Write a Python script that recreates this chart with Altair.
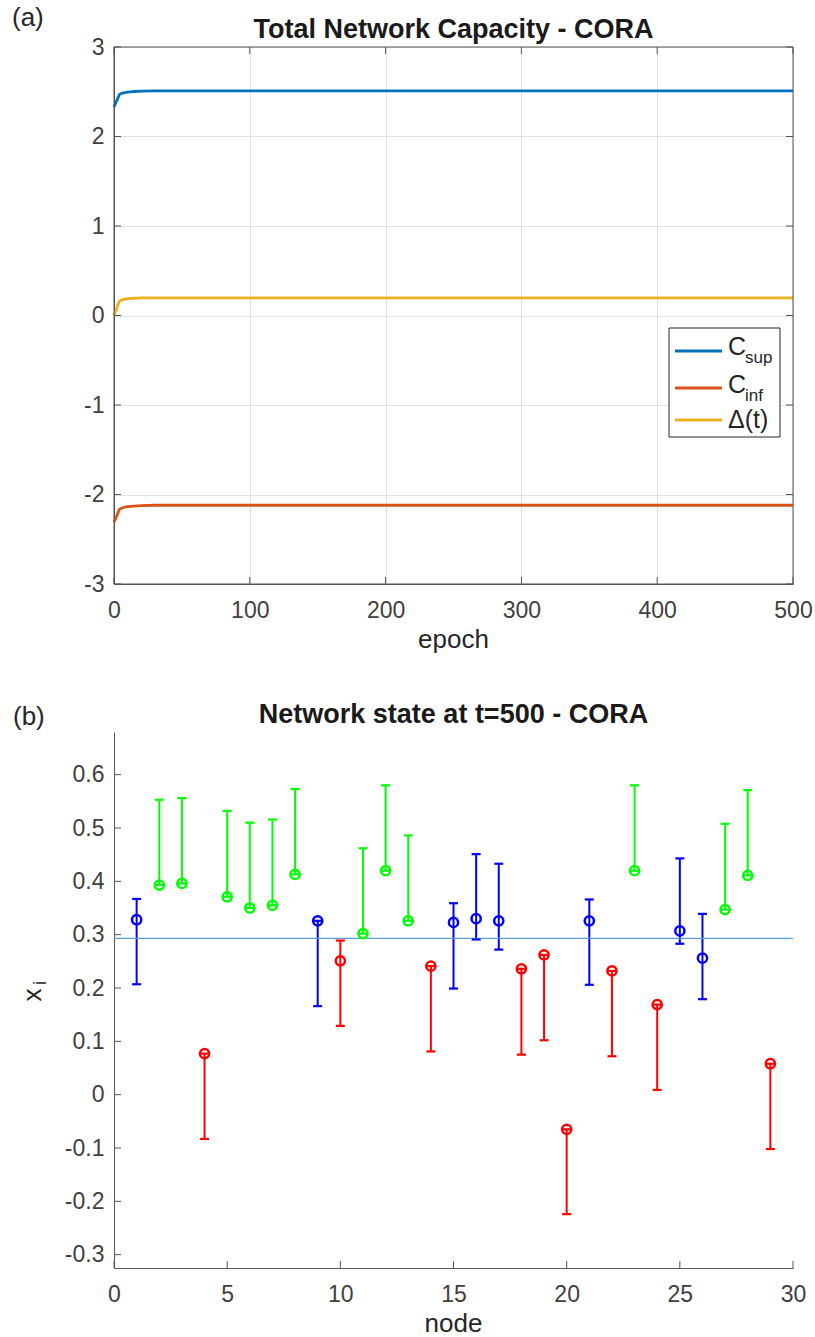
import altair as alt
import pandas as pd

FONT = "Liberation Sans"
INK = "#262626"
AXC = "#555555"

# ---------------- Panel (a): Total Network Capacity ----------------
epochs = [0, 2, 4, 6, 8, 10, 15, 20, 30, 50, 100, 200, 300, 400, 500]
c_sup = [2.33, 2.40, 2.47, 2.485, 2.49, 2.497, 2.503, 2.507, 2.51, 2.51, 2.51, 2.51, 2.51, 2.51, 2.51]
c_inf = [-2.31, -2.24, -2.165, -2.15, -2.14, -2.135, -2.13, -2.125, -2.12, -2.12, -2.12, -2.12, -2.12, -2.12, -2.12]
delta = [0.0, 0.08, 0.16, 0.175, 0.183, 0.188, 0.193, 0.196, 0.198, 0.198, 0.198, 0.198, 0.198, 0.198, 0.198]
series_names = ["C_sup", "C_inf", "Δ(t)"]
series_colors = ["#0072BD", "#D95319", "#EDB120"]
legend_main = ["C", "C", "Δ(t)"]
legend_sub = ["sup", "inf", ""]
a_xticks = [0, 100, 200, 300, 400, 500]
a_yticks = [-3, -2, -1, 0, 1, 2, 3]
title_a = "Total Network Capacity - CORA"
label_a = "(a)"
xlabel_a = "epoch"

# ---------------- Panel (b): Network state ----------------
nodes = list(range(1, 30))
xi = [0.328, 0.393, 0.396, 0.077, 0.371, 0.350, 0.355, 0.413, 0.326, 0.251,
      0.302, 0.420, 0.326, 0.241, 0.323, 0.330, 0.326, 0.236, 0.262, -0.065,
      0.326, 0.232, 0.420, 0.169, 0.307, 0.256, 0.347, 0.411, 0.058]
lo = [0.207, 0.393, 0.396, -0.083, 0.371, 0.350, 0.355, 0.413, 0.166, 0.129,
      0.302, 0.420, 0.326, 0.081, 0.199, 0.291, 0.272, 0.075, 0.102, -0.224,
      0.206, 0.072, 0.420, 0.009, 0.283, 0.179, 0.347, 0.411, -0.102]
hi = [0.367, 0.553, 0.556, 0.077, 0.532, 0.510, 0.516, 0.573, 0.326, 0.289,
      0.462, 0.580, 0.486, 0.241, 0.359, 0.451, 0.433, 0.236, 0.262, -0.065,
      0.366, 0.232, 0.580, 0.169, 0.443, 0.339, 0.508, 0.571, 0.058]
cls = ["b", "g", "g", "r", "g", "g", "g", "g", "b", "r",
       "g", "g", "g", "r", "b", "b", "b", "r", "r", "r",
       "b", "r", "g", "r", "b", "b", "g", "g", "r"]
cls_colors = {"b": "#0000FF", "g": "#00FF00", "r": "#FF0000"}
mean_line = [0.293]
b_xticks = [0, 5, 10, 15, 20, 25, 30]
b_yticks = [-0.3, -0.2, -0.1, 0.0, 0.1, 0.2, 0.3, 0.4, 0.5, 0.6]
title_b = "Network state at t=500 - CORA"
label_b = "(b)"
xlabel_b = "node"
ylabel_b = ["x", "i"]

W, H1, H2 = 679, 537, 536
PAD_L, PAD_T, PAD_R, PAD_B = 114, 47, 22, 69
LABEL_EXPR = "replace(format(datum.value, '.1~f'), '\u2212', '-')"
NOVIEW = alt.ViewBackground(stroke="transparent", strokeWidth=0)


def txt(s, x, y, size, weight="normal", align="left", angle=0, baseline="alphabetic", color=INK):
    return alt.Chart(pd.DataFrame({"t": [s]})).mark_text(
        align=align, baseline=baseline, font=FONT, fontSize=size,
        fontWeight=weight, angle=angle, color=color
    ).encode(text="t:N", x=alt.value(x), y=alt.value(y))


def spacer(x1, x2, y1, y2):
    return alt.Chart(pd.DataFrame({"k": [0]})).mark_rect(fillOpacity=0, strokeOpacity=0).encode(
        x=alt.value(x1), x2=alt.value(x2), y=alt.value(y1), y2=alt.value(y2))


def xaxis(vals, grid):
    return alt.Axis(values=vals, grid=grid, gridColor="#e2e2e2", gridWidth=1,
                    domainColor=AXC, domainWidth=1, ticks=False, tickSize=0,
                    labelFont=FONT, labelFontSize=23, labelColor="#404040",
                    labelPadding=33, labelBaseline="alphabetic", labelFlush=False,
                    labelOverlap=False, labelExpr=LABEL_EXPR, title=None)


def yaxis(vals, grid):
    return alt.Axis(values=vals, grid=grid, gridColor="#e2e2e2", gridWidth=1,
                    domainColor=AXC, domainWidth=1, ticks=False, tickSize=0,
                    labelFont=FONT, labelFontSize=23, labelColor="#404040",
                    labelPadding=10, labelFlush=False, labelOverlap=False,
                    labelExpr=LABEL_EXPR, title=None)


# ---- build panel (a)
rows = []
for name, vals in zip(series_names, [c_sup, c_inf, delta]):
    for e, v in zip(epochs, vals):
        rows.append({"epoch": e, "value": v, "series": name})
df_a = pd.DataFrame(rows)

xs_a = alt.Scale(domain=[0, 500], nice=False)
ys_a = alt.Scale(domain=[-3, 3], nice=False)

lines = alt.Chart(df_a).mark_line(strokeWidth=2.8).encode(
    x=alt.X("epoch:Q", scale=xs_a, axis=xaxis(a_xticks, True)),
    y=alt.Y("value:Q", scale=ys_a, axis=yaxis(a_yticks, True)),
    color=alt.Color("series:N", scale=alt.Scale(domain=series_names, range=series_colors), legend=None),
    order=alt.Order("epoch:Q"),
)

frame_a = alt.Chart(pd.DataFrame({"k": [0]})).mark_rect(fillOpacity=0, stroke=AXC, strokeWidth=1).encode(
    x=alt.value(0), x2=alt.value(W), y=alt.value(0), y2=alt.value(H1))

df_axt = pd.DataFrame({"v": a_xticks})
df_ayt = pd.DataFrame({"v": a_yticks})
tk = dict(color=AXC, strokeWidth=1)
ticks_a = [
    alt.Chart(df_axt).mark_rule(**tk).encode(x=alt.X("v:Q", scale=xs_a), y=alt.value(H1), y2=alt.value(H1 - 7)),
    alt.Chart(df_axt).mark_rule(**tk).encode(x=alt.X("v:Q", scale=xs_a), y=alt.value(0), y2=alt.value(7)),
    alt.Chart(df_ayt).mark_rule(**tk).encode(y=alt.Y("v:Q", scale=ys_a), x=alt.value(0), x2=alt.value(7)),
    alt.Chart(df_ayt).mark_rule(**tk).encode(y=alt.Y("v:Q", scale=ys_a), x=alt.value(W - 7), x2=alt.value(W)),
]

legend_box = alt.Chart(pd.DataFrame({"k": [0]})).mark_rect(fill="white", stroke=INK, strokeWidth=1).encode(
    x=alt.value(555), x2=alt.value(666), y=alt.value(281), y2=alt.value(390))
leg_layers = [legend_box]
leg_y = [304, 341, 373]
main_base = [308, 346, 381]
sub_base = [316, 354]
for i, (col, m, s) in enumerate(zip(series_colors, legend_main, legend_sub)):
    leg_layers.append(
        alt.Chart(pd.DataFrame({"k": [i]})).mark_rule(color=col, strokeWidth=2.8).encode(
            x=alt.value(561), x2=alt.value(608), y=alt.value(leg_y[i])))
    leg_layers.append(txt(m, 614, main_base[i], 25))
    if s:
        leg_layers.append(txt(s, 631, sub_base[i], 17))

texts_a = [
    txt(title_a, W / 2, -9, 27, weight="bold", align="center", color="#1a1a1a"),
    txt(label_a, -102, -21, 26),
    txt(xlabel_a, W / 2, H1 + 64, 26, align="center"),
]

panel_a = alt.layer(spacer(-PAD_L, W + PAD_R, -PAD_T, 0), lines, frame_a, *ticks_a, *leg_layers,
                    *texts_a).properties(width=W, height=H1, view=NOVIEW)

# ---- build panel (b)
df_b = pd.DataFrame({"node": nodes, "xi": xi, "lo": lo, "hi": hi,
                     "col": [cls_colors[c] for c in cls]})
xs_b = alt.Scale(domain=[0, 30], nice=False)
ys_b = alt.Scale(domain=[-0.325, 0.68], nice=False)

base_b = alt.Chart(df_b)
bars = base_b.mark_rule(strokeWidth=2).encode(
    x=alt.X("node:Q", scale=xs_b, axis=xaxis(b_xticks, False)),
    y=alt.Y("lo:Q", scale=ys_b, axis=yaxis(b_yticks, False)),
    y2="hi:Q",
    color=alt.Color("col:N", scale=None),
)
cap_lo = base_b.mark_rule(strokeWidth=2.2, xOffset=-4.5, x2Offset=4.5).encode(
    x=alt.X("node:Q", scale=xs_b), x2="node:Q", y=alt.Y("lo:Q", scale=ys_b),
    color=alt.Color("col:N", scale=None))
cap_hi = base_b.mark_rule(strokeWidth=2.2, xOffset=-4.5, x2Offset=4.5).encode(
    x=alt.X("node:Q", scale=xs_b), x2="node:Q", y=alt.Y("hi:Q", scale=ys_b),
    color=alt.Color("col:N", scale=None))
pts = base_b.mark_point(shape="circle", filled=False, size=85, strokeWidth=2.5, opacity=1).encode(
    x=alt.X("node:Q", scale=xs_b), y=alt.Y("xi:Q", scale=ys_b),
    color=alt.Color("col:N", scale=None))
ref = alt.Chart(pd.DataFrame({"m": mean_line})).mark_rule(color="#5b9fd6", strokeWidth=1.3).encode(
    y=alt.Y("m:Q", scale=ys_b))

df_bxt = pd.DataFrame({"v": b_xticks})
df_byt = pd.DataFrame({"v": b_yticks})
ticks_b = [
    alt.Chart(df_bxt).mark_rule(**tk).encode(x=alt.X("v:Q", scale=xs_b), y=alt.value(H2), y2=alt.value(H2 - 7)),
    alt.Chart(df_byt).mark_rule(**tk).encode(y=alt.Y("v:Q", scale=ys_b), x=alt.value(0), x2=alt.value(7)),
]

texts_b = [
    txt(title_b, W / 2, -9, 27, weight="bold", align="center", color="#1a1a1a"),
    txt(label_b, -101, -7, 26),
    txt(xlabel_b, W / 2, H2 + 64, 26, align="center"),
    txt(ylabel_b[0], -73, 263, 26, align="center", angle=270),
    txt(ylabel_b[1], -68, 251, 18, align="center", angle=270),
]

panel_b = alt.layer(spacer(-PAD_L, W + PAD_R, H2, H2 + PAD_B), bars, ref, cap_lo, cap_hi, pts,
                    *ticks_b, *texts_b).properties(width=W, height=H2, view=NOVIEW)

chart = alt.vconcat(panel_a, panel_b, spacing=148, bounds="flush").properties(
    padding=0,
).configure_view(stroke="transparent", strokeWidth=0).configure(background="white")

chart.save("out.html", embed_options={"renderer": "svg", "actions": False})
